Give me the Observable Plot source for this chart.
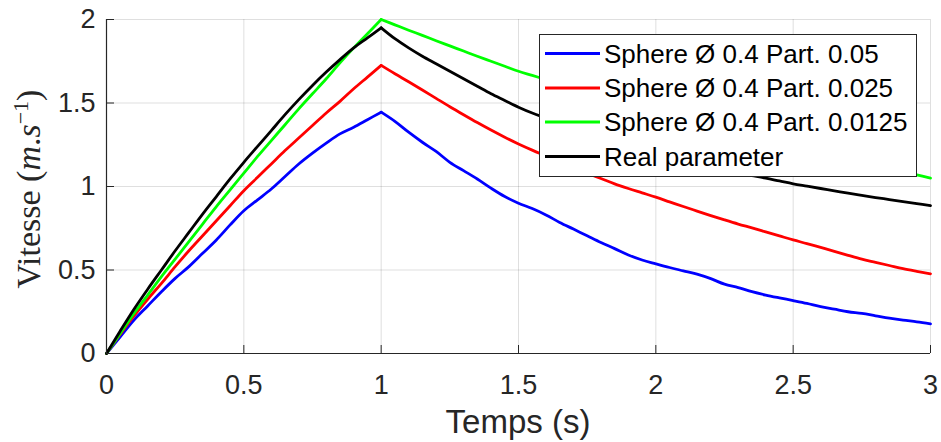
<!DOCTYPE html>
<html>
<head>
<meta charset="utf-8">
<script src="https://cdn.jsdelivr.net/npm/d3@7"></script>
<script src="https://cdn.jsdelivr.net/npm/@observablehq/plot@0.6"></script>
<style>
  html, body { margin: 0; padding: 0; background: #fff; }
</style>
</head>
<body>
<div id="chart"></div>
<script>
// Time samples (s)
const time = [0,0.05,0.1,0.15,0.2,0.25,0.3,0.35,0.4,0.45,0.5,0.55,0.6,0.65,0.7,0.75,0.8,0.85,0.9,0.95,1.0,
  1.05,1.1,1.15,1.2,1.25,1.3,1.35,1.4,1.45,1.5,1.55,1.6,1.65,1.7,1.75,1.8,1.85,1.9,1.95,2.0,
  2.05,2.1,2.15,2.2,2.25,2.3,2.35,2.4,2.45,2.5,2.55,2.6,2.65,2.7,2.75,2.8,2.85,2.9,2.95,3.0];

// Sphere Ø 0.4 Part. 0.05
const part005 = [0,0.1,0.2,0.285,0.37,0.45,0.52,0.6,0.68,0.77,0.855,0.92,0.985,1.06,1.135,1.2,1.26,1.315,1.355,1.40,1.445,
  1.39,1.325,1.265,1.21,1.145,1.095,1.045,0.99,0.94,0.9,0.868,0.83,0.785,0.745,0.705,0.665,0.628,0.59,0.56,0.537,
  0.515,0.495,0.475,0.448,0.415,0.395,0.37,0.35,0.333,0.317,0.3,0.28,0.265,0.25,0.24,0.226,0.212,0.2,0.19,0.178];

// Sphere Ø 0.4 Part. 0.025
const part0025 = [0,0.115,0.225,0.325,0.42,0.52,0.615,0.705,0.795,0.885,0.975,1.055,1.135,1.215,1.29,1.365,1.44,1.51,1.585,1.655,1.725,
  1.675,1.627,1.578,1.528,1.478,1.43,1.383,1.338,1.295,1.255,1.218,1.183,1.148,1.113,1.08,1.048,1.016,0.988,0.962,0.936,
  0.908,0.88,0.853,0.826,0.8,0.775,0.752,0.728,0.704,0.68,0.658,0.635,0.612,0.588,0.565,0.546,0.527,0.508,0.492,0.477];

// Sphere Ø 0.4 Part. 0.0125
const part00125 = [0,0.12,0.24,0.35,0.46,0.565,0.67,0.775,0.88,0.98,1.08,1.18,1.275,1.37,1.465,1.555,1.645,1.74,1.83,1.915,2.0,
  1.968,1.936,1.905,1.873,1.842,1.811,1.78,1.75,1.72,1.69,1.665,1.64,1.615,1.59,1.565,1.54,1.515,1.49,1.47,1.45,
  1.428,1.407,1.386,1.365,1.345,1.325,1.305,1.285,1.265,1.245,1.226,1.207,1.188,1.17,1.15,1.13,1.11,1.09,1.07,1.05];

// Real parameter
const realParam = [0,0.135,0.265,0.385,0.50,0.615,0.725,0.835,0.94,1.045,1.145,1.24,1.335,1.43,1.52,1.605,1.685,1.76,1.83,1.89,1.95,
  1.885,1.83,1.78,1.735,1.69,1.645,1.6,1.555,1.515,1.475,1.44,1.41,1.38,1.35,1.32,1.295,1.27,1.245,1.22,1.20,
  1.18,1.16,1.14,1.12,1.10,1.08,1.065,1.05,1.033,1.016,1.002,0.988,0.974,0.96,0.947,0.934,0.922,0.91,0.898,0.886];

const seriesNames = ["Sphere Ø 0.4 Part. 0.05", "Sphere Ø 0.4 Part. 0.025", "Sphere Ø 0.4 Part. 0.0125", "Real parameter"];
const seriesValues = [part005, part0025, part00125, realParam];
const seriesColors = ["#0000ff", "#ff0000", "#00ff00", "#000000"];

const xTicks = [0, 0.5, 1, 1.5, 2, 2.5, 3];
const yTicks = [0, 0.5, 1, 1.5, 2];

const axisColor = "#262626";

// split each series into acceleration (t <= 1) and deceleration (t >= 1) phases
const lineMarks = seriesValues.map((vals, k) => {
  const rows = [];
  time.forEach((t, i) => {
    if (t <= 1) rows.push({t, v: vals[i], phase: "up"});
    if (t >= 1) rows.push({t, v: vals[i], phase: "down"});
  });
  return Plot.line(rows, {
    x: "t", y: "v", z: "phase", curve: "catmull-rom",
    stroke: seriesColors[k], strokeWidth: 2.8, strokeLinejoin: "round", strokeLinecap: "round"
  });
});

const svg = Plot.plot({
  width: 941,
  height: 442,
  marginLeft: 106,
  marginRight: 11,
  marginTop: 19,
  marginBottom: 89,
  style: {fontFamily: "'Liberation Sans', Arial, sans-serif", fontSize: "27px", background: "#fff", color: axisColor},
  x: {domain: [0, 3], label: null},
  y: {domain: [0, 2], label: null},
  marks: [
    Plot.gridX(xTicks, {stroke: axisColor, strokeOpacity: 0.15, strokeWidth: 1}),
    Plot.gridY(yTicks, {stroke: axisColor, strokeOpacity: 0.15, strokeWidth: 1}),
    ...lineMarks,
    Plot.ruleX(xTicks, {y1: 2, y2: 0, insetTop: 326, stroke: axisColor, strokeWidth: 1}),
    Plot.ruleY(yTicks, {x1: 0, x2: 3, insetRight: 816, stroke: axisColor, strokeWidth: 1}),
    Plot.ruleY([0], {stroke: axisColor, strokeWidth: 1.2}),
    Plot.ruleX([0], {stroke: axisColor, strokeWidth: 1.2}),
    Plot.axisX({ticks: xTicks, tickSize: 0, tickPadding: 21, tickFormat: d => String(d), label: null, fill: axisColor}),
    Plot.axisY({ticks: yTicks, tickSize: 0, tickPadding: 11, tickFormat: d => String(d), label: null, fill: axisColor})
  ]
});

const s = d3.select(svg);

// x-axis label
s.append("text")
  .attr("x", 518).attr("y", 433)
  .attr("text-anchor", "middle")
  .attr("fill", axisColor)
  .style("font-family", "'Liberation Sans', Arial, sans-serif")
  .style("font-size", "33px")
  .text("Temps (s)");

// y-axis label (LaTeX-like)
const yl = s.append("text")
  .attr("transform", "translate(40,189) rotate(-90)")
  .attr("text-anchor", "middle")
  .attr("fill", axisColor)
  .style("font-family", "'Liberation Serif', 'DejaVu Serif', serif")
  .style("font-size", "34px");
yl.append("tspan").text("Vitesse (");
yl.append("tspan").style("font-style", "italic").text("m");
yl.append("tspan").text(".");
yl.append("tspan").style("font-style", "italic").text("s");
yl.append("tspan").attr("dy", "-12").style("font-size", "22px").text("−1");
yl.append("tspan").attr("dy", "12").text(")");

// legend
const lg = s.append("g").attr("text-anchor", "start");
lg.append("rect")
  .attr("x", 539.5).attr("y", 34.5).attr("width", 377).attr("height", 142)
  .attr("fill", "#fff").attr("stroke", axisColor).attr("stroke-width", 1);
const rowY = [53.5, 88, 122, 156.5];
seriesNames.forEach((name, k) => {
  lg.append("line")
    .attr("x1", 545).attr("x2", 600)
    .attr("y1", rowY[k]).attr("y2", rowY[k])
    .attr("stroke", seriesColors[k]).attr("stroke-width", 3);
  lg.append("text")
    .attr("x", 604).attr("y", rowY[k]).attr("dy", "0.36em")
    .attr("text-anchor", "start")
    .attr("fill", "#000")
    .style("font-family", "'Liberation Sans', Arial, sans-serif")
    .style("font-size", "26px")
    .text(name);
});

document.getElementById("chart").appendChild(svg);
</script>
</body>
</html>
